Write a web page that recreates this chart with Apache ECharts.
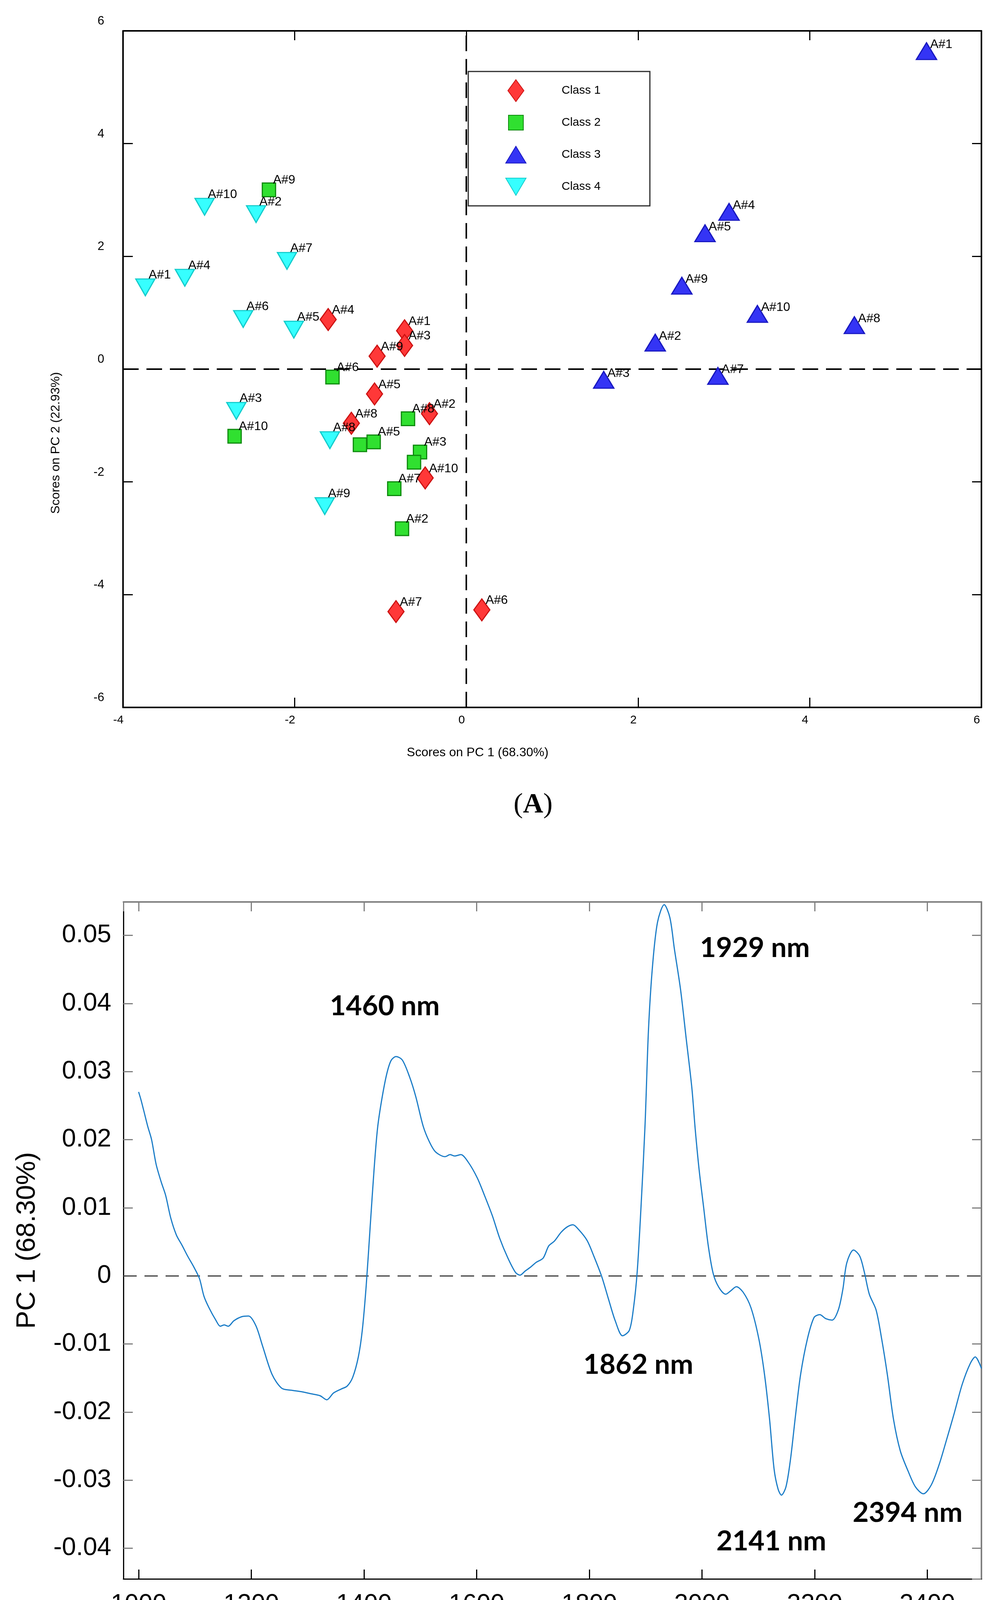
<!DOCTYPE html>
<html>
<head>
<meta charset="utf-8">
<title>PCA scores and PC1 loadings</title>
<script src="https://cdn.jsdelivr.net/npm/echarts@6/dist/echarts.min.js"></script>
<style>
  html, body { margin: 0; padding: 0; background: #fff; }
  #chart { width: 2558px; height: 4411px; }
</style>
</head>
<body>
<div id="chart"></div>
<script>
// ---- (A) scores on PC1 / PC2 ----
const classNames = ['Class 1', 'Class 2', 'Class 3', 'Class 4'];

const class1Labels = ['A#1', 'A#2', 'A#3', 'A#4', 'A#5', 'A#6', 'A#7', 'A#8', 'A#9', 'A#10'];
const class1X = [-0.72, -0.43, -0.72, -1.61, -1.07, 0.18, -0.82, -1.34, -1.04, -0.48];
const class1Y = [0.68, -0.79, 0.42, 0.88, -0.44, -4.27, -4.30, -0.96, 0.23, -1.93];

// two squares carry no visible label in the figure
const class2Labels = ['', 'A#2', 'A#3', '', 'A#5', 'A#6', 'A#7', 'A#8', 'A#9', 'A#10'];
const class2X = [-1.24, -0.75, -0.54, -0.61, -1.08, -1.56, -0.84, -0.68, -2.30, -2.70];
const class2Y = [-1.34, -2.83, -1.47, -1.65, -1.29, -0.14, -2.12, -0.88, 3.18, -1.19];

const class3Labels = ['A#1', 'A#2', 'A#3', 'A#4', 'A#5', 'A#7', 'A#8', 'A#9', 'A#10'];
const class3X = [5.36, 2.20, 1.60, 3.06, 2.78, 2.93, 4.52, 2.51, 3.39];
const class3Y = [5.64, 0.47, -0.19, 2.79, 2.41, -0.12, 0.78, 1.48, 0.98];

const class4Labels = ['A#1', 'A#2', 'A#3', 'A#4', 'A#5', 'A#6', 'A#7', 'A#8', 'A#9', 'A#10'];
const class4X = [-3.74, -2.45, -2.68, -3.28, -2.01, -2.60, -2.09, -1.59, -1.65, -3.05];
const class4Y = [1.45, 2.75, -0.74, 1.62, 0.70, 0.89, 1.92, -1.26, -2.43, 2.88];

// ---- (B) PC1 loading vs wavelength ----
const wavelength = [
  1000, 1004, 1009, 1016, 1023, 1031, 1040, 1048, 1057, 1067, 1077, 1087, 1098, 1108, 1116, 1125,
  1137, 1145, 1152, 1159, 1169, 1183, 1195, 1208, 1220, 1237, 1254, 1271, 1288, 1305, 1322, 1334,
  1346, 1360, 1370, 1380, 1390, 1397, 1404, 1411, 1418, 1424, 1431, 1440, 1448, 1457, 1468, 1481,
  1492, 1505, 1516, 1527, 1544, 1553, 1561, 1572, 1585, 1601, 1614, 1628, 1641, 1655, 1669, 1677,
  1686, 1696, 1706, 1718, 1728, 1738, 1750, 1761, 1771, 1781, 1796, 1808, 1822, 1834, 1846, 1859,
  1871, 1878, 1885, 1892, 1899, 1905, 1912, 1921, 1933, 1943, 1951, 1962, 1972, 1982, 1988, 1995,
  2003, 2011, 2020, 2030, 2042, 2051, 2061, 2073, 2087, 2101, 2111, 2120, 2128, 2135, 2141, 2149,
  2157, 2166, 2175, 2187, 2199, 2209, 2220, 2231, 2242, 2250, 2257, 2269, 2280, 2288, 2297, 2309,
  2319, 2329, 2340, 2352, 2366, 2379, 2393, 2407, 2421, 2434, 2448, 2462, 2476, 2485, 2496
];
const pc1Loading = [
  0.0270, 0.0259, 0.0243, 0.0220, 0.0200, 0.0164, 0.0138, 0.0118, 0.0085, 0.0060, 0.0045, 0.0029, 0.0013, -0.0004, -0.0030, -0.0047,
  -0.0065, -0.0074, -0.0072, -0.0074, -0.0066, -0.0060, -0.0059, -0.0073, -0.0103, -0.0145, -0.0165, -0.0168, -0.0170, -0.0173, -0.0176, -0.0182,
  -0.0172, -0.0166, -0.0162, -0.0149, -0.0119, -0.0080, -0.0014, 0.0072, 0.0157, 0.0216, 0.0256, 0.0295, 0.0316, 0.0322, 0.0317, 0.0292,
  0.0263, 0.0220, 0.0197, 0.0182, 0.0175, 0.0178, 0.0176, 0.0178, 0.0167, 0.0144, 0.0118, 0.0088, 0.0055, 0.0027, 0.0005, 0.0001,
  0.0007, 0.0013, 0.0020, 0.0026, 0.0044, 0.0051, 0.0064, 0.0072, 0.0075, 0.0068, 0.0052, 0.0029, -0.0001, -0.0034, -0.0066, -0.0088,
  -0.0080, -0.0050, 0.0006, 0.0105, 0.0223, 0.0361, 0.0453, 0.0519, 0.0545, 0.0526, 0.0480, 0.0420, 0.0348, 0.0276, 0.0215, 0.0155,
  0.0100, 0.0045, 0.0003, -0.0017, -0.0027, -0.0022, -0.0016, -0.0024, -0.0047, -0.0093, -0.0145, -0.0211, -0.0284, -0.0313, -0.0322, -0.0310,
  -0.0270, -0.0205, -0.0145, -0.0093, -0.0061, -0.0057, -0.0063, -0.0065, -0.0050, -0.0020, 0.0019, 0.0038, 0.0029, 0.0006, -0.0027, -0.0050,
  -0.0093, -0.0145, -0.0211, -0.0257, -0.0287, -0.0310, -0.0320, -0.0307, -0.0277, -0.0241, -0.0201, -0.0159, -0.0129, -0.0119, -0.0136
];

const peakLabels = ['1460 nm', '1929 nm', '1862 nm', '2141 nm', '2394 nm'];
const peakLabelX = [1437, 2094, 1887, 2123, 2365];
const peakLabelY = [0.0396, 0.0481, -0.0131, -0.0390, -0.0348];

const toPoints = (names, xs, ys) => names.map((name, i) => ({ name: name, value: [xs[i], ys[i]] }));

const FONT = 'Liberation Sans, Arial, sans-serif';

function scoreSeries(name, names, xs, ys, symbol, size, fill, stroke, labelPos) {
  return {
    name: name,
    type: 'scatter',
    xAxisIndex: 0,
    yAxisIndex: 0,
    symbol: symbol,
    symbolSize: size,
    symbolKeepAspect: false,
    z: 3,
    itemStyle: { color: fill, borderColor: stroke, borderWidth: 3, opacity: 1 },
    label: {
      show: true,
      formatter: '{b}',
      position: labelPos,
      align: 'left',
      verticalAlign: 'middle',
      color: '#000',
      fontFamily: FONT,
      fontSize: 32
    },
    emphasis: { disabled: true },
    data: toPoints(names, xs, ys)
  };
}

function frameAxis(gridIndex, pos, min, max, interval, color, width, tickColor) {
  const a = {
    type: 'value', gridIndex: gridIndex, position: pos, min: min, max: max,
    axisLine: { show: true, onZero: false, lineStyle: { color: color, width: width } },
    axisTick: { show: true, inside: true, length: 24, lineStyle: { color: tickColor, width: 3 } },
    axisLabel: { show: false },
    splitLine: { show: false }
  };
  if (interval) a.interval = interval; else a.splitNumber = pos === 'top' ? 8 : 10;
  return a;
}

const chart = echarts.init(document.getElementById('chart'), null, { renderer: 'canvas' });

const option = {
  animation: false,
  backgroundColor: '#ffffff',
  grid: [
    { left: 315, top: 79, width: 2198, height: 1732, containLabel: false, outerBoundsMode: 'none' },
    { left: 316, top: 2309, width: 2197, height: 1733, containLabel: false, outerBoundsMode: 'none' }
  ],
  legend: {
    orient: 'vertical',
    left: 1199,
    top: 183,
    padding: [18, 126, 18, 91],
    itemWidth: 60,
    itemHeight: 60,
    itemGap: 20,
    borderColor: '#2b2b2b',
    borderWidth: 3,
    selectedMode: false,
    textStyle: { fontFamily: FONT, fontSize: 30, color: '#000', padding: [0, 0, 32, 82] },
    data: [
      { name: 'Class 1', icon: 'path://M0 0M60 60M30 2L50.5 30L30 58L9.5 30Z' },
      { name: 'Class 2', icon: 'path://M0 0M60 60M11 11L49 11L49 49L11 49Z' },
      { name: 'Class 3', icon: 'path://M0 0M60 60M30 8.5L56 51.5L4 51.5Z' },
      { name: 'Class 4', icon: 'path://M0 0M60 60M4 8L56 8L30 52Z' }
    ]
  },
  xAxis: [
    {
      type: 'value', gridIndex: 0, position: 'bottom', min: -4, max: 6, interval: 2,
      name: 'Scores on PC 1 (68.30%)', nameLocation: 'middle', nameGap: 100, nameMoveOverlap: false,
      nameTextStyle: { fontFamily: FONT, fontSize: 32, color: '#000', padding: [0, 382, 0, 0] },
      axisLine: { show: true, onZero: false, lineStyle: { color: '#000', width: 4 } },
      axisTick: { show: true, inside: true, length: 25, lineStyle: { color: '#000', width: 3 } },
      axisLabel: { show: true, fontFamily: FONT, fontSize: 30, color: '#000', margin: 18, padding: [0, 24, 0, 0] },
      splitLine: { show: false }
    },
    frameAxis(0, 'top', -4, 6, 2, '#000', 4, '#000'),
    {
      type: 'value', gridIndex: 1, position: 'bottom', min: 973, max: 2496, splitNumber: 8,
      name: 'wavelength (nm)', nameLocation: 'middle', nameGap: 128, nameMoveOverlap: false,
      nameTextStyle: { fontFamily: FONT, fontSize: 64, color: '#111' },
      axisLine: { show: true, onZero: false, lineStyle: { color: '#000', width: 3 } },
      axisTick: { show: true, inside: true, length: 24, lineStyle: { color: '#000', width: 3 } },
      axisLabel: {
        show: true, fontFamily: FONT, fontSize: 64, color: '#000', margin: 34,
        showMinLabel: false, showMaxLabel: false,
        formatter: v => (Math.abs(v % 200) < 1e-6 ? String(Math.round(v)) : '')
      },
      splitLine: { show: false }
    },
    frameAxis(1, 'top', 973, 2496, null, '#808080', 4, '#808080')
  ],
  yAxis: [
    {
      type: 'value', gridIndex: 0, position: 'left', min: -6, max: 6, interval: 2,
      name: 'Scores on PC 2 (22.93%)', nameLocation: 'middle', nameRotate: 90, nameGap: 156, nameMoveOverlap: false,
      nameTextStyle: { fontFamily: FONT, fontSize: 32, color: '#000', padding: [0, 378, 0, 0] },
      axisLine: { show: true, onZero: false, lineStyle: { color: '#000', width: 4 } },
      axisTick: { show: true, inside: true, length: 25, lineStyle: { color: '#000', width: 3 } },
      axisLabel: {
        show: true, fontFamily: FONT, fontSize: 31, color: '#000', margin: 48,
        verticalAlign: 'bottom', lineHeight: 31, padding: [0, 0, 9, 0]
      },
      splitLine: { show: false }
    },
    frameAxis(0, 'right', -6, 6, 2, '#000', 4, '#000'),
    {
      type: 'value', gridIndex: 1, position: 'left', min: -0.0445, max: 0.0549, splitNumber: 10,
      name: 'PC 1 (68.30%)', nameLocation: 'middle', nameRotate: 90, nameGap: 212, nameMoveOverlap: false,
      nameTextStyle: { fontFamily: FONT, fontSize: 69, color: '#000' },
      axisLine: { show: true, onZero: false, lineStyle: { color: '#000', width: 3 } },
      axisTick: { show: true, inside: true, length: 24, lineStyle: { color: '#808080', width: 3 } },
      axisLabel: {
        show: true, fontFamily: FONT, fontSize: 65, color: '#000', margin: 31,
        showMinLabel: false, showMaxLabel: false,
        formatter: v => {
          const r = Math.round(v * 100);
          if (Math.abs(v * 100 - r) > 1e-6) return '';
          return r === 0 ? '0' : (r / 100).toFixed(2);
        }
      },
      splitLine: { show: false }
    },
    frameAxis(1, 'right', -0.0445, 0.0549, null, '#808080', 4, '#808080')
  ],
  graphic: [
    {
      type: 'text', x: 1365, y: 2061, z: 10,
      style: {
        text: '{p|(}{b|A}{p|)}', align: 'center', verticalAlign: 'middle',
        rich: {
          p: { fontFamily: 'Liberation Serif, serif', fontSize: 72, fill: '#000' },
          b: { fontFamily: 'Liberation Serif, serif', fontSize: 72, fontWeight: 'bold', fill: '#000' }
        }
      }
    },
    {
      type: 'text', x: 1365, y: 4330, z: 10,
      style: {
        text: '{p|(}{b|B}{p|)}', align: 'center', verticalAlign: 'middle',
        rich: {
          p: { fontFamily: 'Liberation Serif, serif', fontSize: 72, fill: '#000' },
          b: { fontFamily: 'Liberation Serif, serif', fontSize: 72, fontWeight: 'bold', fill: '#000' }
        }
      }
    }
  ],
  series: [
    {
      name: 'zero lines A',
      type: 'line',
      xAxisIndex: 0,
      yAxisIndex: 0,
      data: [],
      z: 1,
      markLine: {
        silent: true, z: 1, symbol: ['none', 'none'],
        label: { show: false },
        lineStyle: { color: '#000', width: 4, type: [40, 20] },
        data: [{ xAxis: 0 }, { yAxis: 0 }]
      }
    },
    scoreSeries('Class 2', class2Labels, class2X, class2Y, 'rect', [34, 35], '#30E030', '#0E8A0E', [29, -5.5]),
    scoreSeries('Class 1', class1Labels, class1X, class1Y, 'diamond', [41, 56], '#FF3838', '#CC1111', [31.5, 6]),
    scoreSeries('Class 4', class4Labels, class4X, class4Y, 'path://M0 0L52 0L26 43Z', [49, 43], '#36FFFF', '#14CCCC', [34.5, -8.5]),
    scoreSeries('Class 3', class3Labels, class3X, class3Y, 'triangle', [52, 43], '#3434F5', '#1818C0', [37, 6.5]),
    {
      name: 'PC 1 loading',
      type: 'line',
      xAxisIndex: 2,
      yAxisIndex: 2,
      showSymbol: false,
      smooth: 0.3,
      z: 3,
      lineStyle: { color: '#1A7CC7', width: 3 },
      itemStyle: { color: '#1A7CC7' },
      emphasis: { disabled: true },
      data: wavelength.map((w, i) => [w, pc1Loading[i]]),
      markLine: {
        silent: true, z: 1, symbol: ['none', 'none'],
        label: { show: false },
        lineStyle: { color: '#404040', width: 3, type: [34, 20] },
        data: [{ yAxis: 0 }]
      }
    },
    {
      name: 'peak labels',
      type: 'scatter',
      xAxisIndex: 2,
      yAxisIndex: 2,
      symbolSize: 2,
      z: 4,
      itemStyle: { color: 'rgba(255,255,255,0)' },
      label: {
        show: true,
        formatter: '{b}',
        position: [1, 1],
        align: 'center',
        verticalAlign: 'middle',
        color: '#000',
        opacity: 1,
        textBorderWidth: 0,
        fontFamily: 'Lato, Open Sans, sans-serif',
        fontWeight: 'bold',
        fontSize: 71
      },
      emphasis: { disabled: true },
      data: toPoints(peakLabels, peakLabelX, peakLabelY)
    }
  ]
};

chart.setOption(option);
</script>
</body>
</html>
